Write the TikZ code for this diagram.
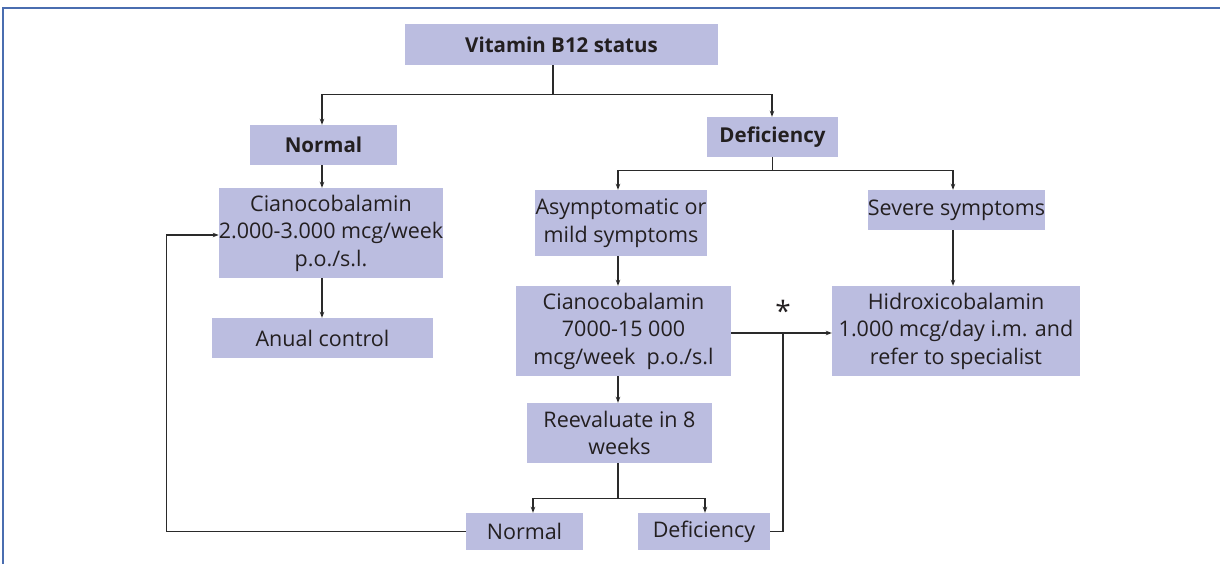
\documentclass[tikz,border=0pt]{standalone}
\usepackage{fontspec}
\setmainfont{Open Sans}
\usetikzlibrary{arrows.meta}
\definecolor{boxfill}{HTML}{BBBDE0}
\definecolor{framecol}{HTML}{4A6DB0}
\definecolor{linecol}{HTML}{2A2A2A}
\definecolor{textcol}{HTML}{231F20}
\tikzset{
  box/.style={fill=boxfill, draw=none, inner sep=0pt, align=center, text=textcol,
    font=\fontsize{21.5}{27.5}\selectfont},
  tbox/.style={box, font=\bfseries\fontsize{20.5}{24}\selectfont},
  conn/.style={draw=linecol, line width=1.2pt},
  arr/.style={conn, -{Stealth[length=6pt,width=4.5pt]}}
}
\begin{document}
\begin{tikzpicture}[x=1pt,y=-1pt]
\useasboundingbox (0,0) rectangle (1220,564);
\fill[white] (0,0) rectangle (1220,564);
\draw[framecol, line width=1.5pt] (3,564) -- (3,8) -- (1220,8);

\node[tbox, minimum width=313pt, minimum height=41pt] (vit) at (561.5,44.5) {Vitamin B12 status};
\node[tbox, minimum width=147pt, minimum height=40pt] (norm) at (323.5,145) {Normal};
\node[tbox, minimum width=131pt, minimum height=40pt] (def) at (772.5,137) {Deficiency};
\node[box, minimum width=222pt, minimum height=90pt] (cian1) at (331,233) {Cianocobalamin\\2.000-3.000 mcg/week\\p.o./s.l.};
\node[box, minimum width=221pt, minimum height=40pt] (anual) at (322.5,338) {Anual control};
\node[box, minimum width=172pt, minimum height=66pt] (asym) at (621,223) {Asymptomatic or\\mild symptoms};
\node[box, minimum width=177pt, minimum height=40pt] (sev) at (956.5,210) {Severe symptoms};
\node[box, minimum width=215pt, minimum height=90pt] (cian2) at (623.5,331) {Cianocobalamin\\7000-15 000\\mcg/week\ \ p.o./s.l};
\node[box, minimum width=248pt, minimum height=90pt] (hid) at (956,331) {Hidroxicobalamin\\1.000 mcg/day i.m. and\\refer to specialist};
\node[box, minimum width=185pt, minimum height=60pt] (reev) at (619.5,433) {Reevaluate in 8\\weeks};
\node[box, minimum width=117pt, minimum height=37pt] (norm2) at (524.5,531.5) {Normal};
\node[box, minimum width=132pt, minimum height=37pt] (def2) at (704,531.5) {Deficiency};
\node[font=\fontsize{28}{30}\selectfont, text=textcol] (ast) at (783,311) {*};

% top split
\draw[conn] ([xshift=-8.5pt]vit.south) -- ++(0,29) coordinate (j1);
\draw[arr] (j1) -| ([xshift=-1.5pt]norm.north);
\draw[arr] (j1) -| ([xshift=-0.5pt]def.north);

% normal branch
\draw[arr] ([xshift=-1.5pt]norm.south) -- ([xshift=-9pt]cian1.north);
\draw[arr] ([xshift=-9pt]cian1.south) -- ([xshift=-0.5pt]anual.north);

% deficiency split
\draw[conn] (def.south) -- ++(0,13) coordinate (j2);
\draw[arr] (j2) -| ([xshift=-3pt]asym.north);
\draw[arr] (j2) -| ([xshift=-3.5pt]sev.north);
\draw[arr] ([xshift=-3.5pt]sev.south) -- ([xshift=-3pt]hid.north);

\draw[arr] ([xshift=-3pt]asym.south) -- ([xshift=-5.5pt]cian2.north);
\draw[arr] ([yshift=-2pt]cian2.east) -- ([yshift=-2pt]hid.west);
\draw[arr] ([xshift=-5.5pt]cian2.south) -- ([xshift=-1.5pt]reev.north);

% reevaluate split
\draw[conn] ([xshift=-1.5pt]reev.south) -- ++(0,35) coordinate (j3);
\draw[arr] (j3) -| ([xshift=8.5pt]norm2.north);
\draw[arr] (j3) -| ([xshift=1pt]def2.north);

% loops back
\coordinate (jr) at ([yshift=-2pt]cian2.east -| ast);
\draw[conn] (def2.east) -| (jr);
\draw[arr] (norm2.west) -- ++(-299.5,0) |- ([yshift=-2pt]cian1.west);
\end{tikzpicture}
\end{document}
